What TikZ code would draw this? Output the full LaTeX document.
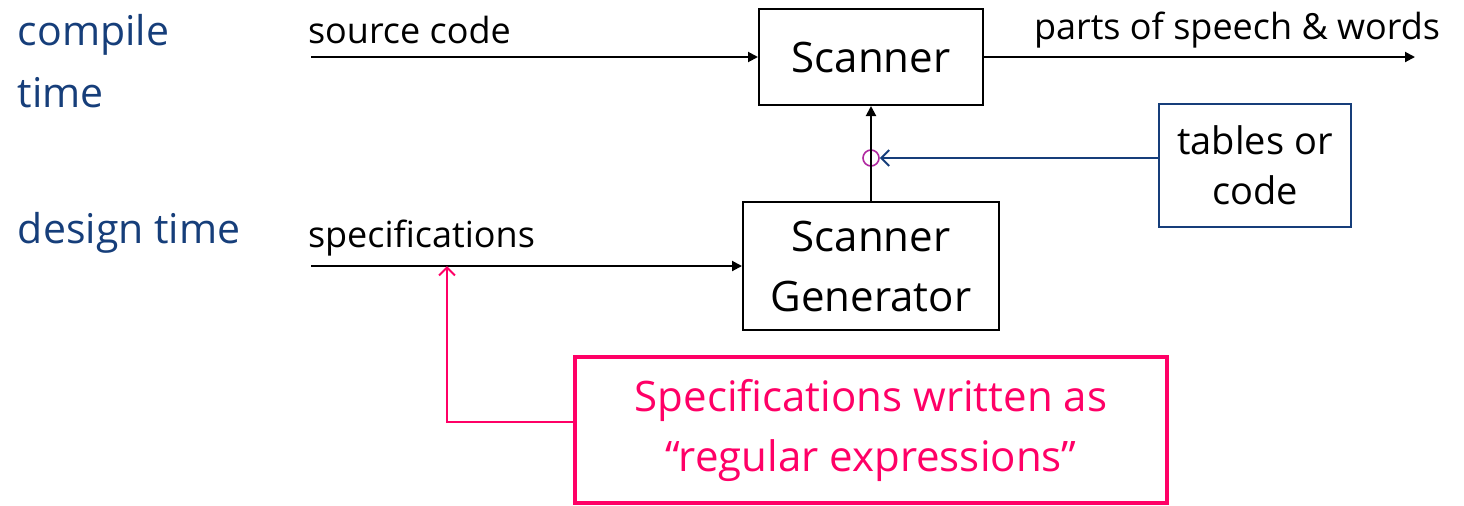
\documentclass[tikz,border=0pt]{standalone}
\usepackage{fontspec}
\setmainfont{Open Sans}
\usetikzlibrary{arrows.meta}
\definecolor{slateblue}{RGB}{22,62,122}
\definecolor{hotpink}{RGB}{255,0,102}
\definecolor{plum}{RGB}{176,40,160}

\begin{document}
\begin{tikzpicture}[x=0.5pt,y=-0.5pt,->,>={Triangle[length=5pt,width=5pt]},line width=1pt,
		blk/.style={draw,inner sep=0pt,align=center,font=\fontsize{21}{30}\selectfont},
		lbl/.style={anchor=west,inner sep=0pt,font=\fontsize{18}{22}\selectfont},
		phase/.style={anchor=west,inner sep=0pt,align=left,text=slateblue,font=\fontsize{20.5}{31}\selectfont},
		barb/.style={-{Straight Barb[length=4pt,width=8pt,line width=1pt]}}]
	\useasboundingbox (0,0) rectangle (1464,505);
	\node[phase] (compile) at (17,61) {compile\\time};
	\node[phase] (design) at (17,233) {design time};
	\node[blk,minimum width=112pt,minimum height=48pt] (scan) at (871,57) {Scanner};
	\node[blk,minimum width=128pt,minimum height=64pt] (gen) at (871,266) {Scanner\\Generator};
	\node[blk,draw=slateblue,minimum width=96pt,minimum height=61.5pt,font=\fontsize{19}{25}\selectfont] (tables) at (1255,165.5) {tables or\\code};
	\node[blk,draw=hotpink,text=hotpink,line width=1.8pt,minimum width=296pt,minimum height=73pt] (regex) at (871,430) {Specifications written as\\“regular expressions”};
	\node[lbl] (srclbl) at (307,30) {source code};
	\node[lbl] (outlbl) at (1033,30) {parts of speech \& words};
	\node[lbl] (speclbl) at (307,238) {specifications};
	\coordinate (src) at (311,57);
	\coordinate (out) at (1415,57);
	\coordinate (spec) at (311,266);
	\coordinate (specin) at (447,266);
	\node[circle,draw=plum,line width=0.8pt,minimum size=8pt,inner sep=0pt] (hub) at (871,158) {};
	\draw (src) -- (scan);
	\draw (scan) -- (out);
	\draw (spec) -- (gen);
	\draw (gen) -- (scan);
	\draw[barb,slateblue] (tables.west |- hub) -- (hub.east);
	\draw[barb,hotpink,line width=0.8pt] ([yshift=4pt]regex.west) -| (specin);
\end{tikzpicture}
\end{document}
